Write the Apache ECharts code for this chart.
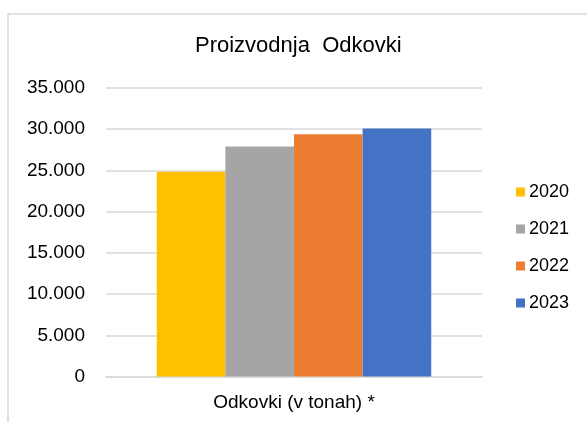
<!DOCTYPE html>
<html>
<head>
<meta charset="utf-8">
<script src="https://cdn.jsdelivr.net/npm/echarts@6/dist/echarts.min.js"></script>
<style>
  html, body { margin: 0; padding: 0; background: #fff; }
  #chart { width: 587px; height: 422px; }
</style>
</head>
<body>
<div id="chart"></div>
<script>
// Production of forgings per year (tonnes)
const categories = ['Odkovki (v tonah) *'];
const years = ['2020', '2021', '2022', '2023'];
const values2020 = [24850];
const values2021 = [27900];
const values2022 = [29400];
const values2023 = [30100];
const yearColors = ['#FFC000', '#A5A5A5', '#ED7D31', '#4472C4'];

const seriesValues = [values2020, values2021, values2022, values2023];
const font = '"Liberation Sans", Arial, sans-serif';

// Thousands separator with a dot: 35000 -> 35.000
function fmt(v) {
  return String(v).replace(/\B(?=(\d{3})+(?!\d))/g, '.');
}

const chart = echarts.init(document.getElementById('chart'), null, { renderer: 'canvas' });
chart.setOption({
  animation: false,
  backgroundColor: '#fff',
  textStyle: { fontFamily: font },
  title: {
    text: 'Proizvodnja  Odkovki',
    left: 195,
    top: 35,
    padding: 0,
    textStyle: { fontFamily: font, fontSize: 22, fontWeight: 'normal', color: '#000' }
  },
  legend: {
    orient: 'vertical',
    left: 516,
    top: 183,
    padding: 0,
    itemWidth: 9,
    itemHeight: 9,
    itemGap: 19,
    icon: 'rect',
    textStyle: { fontFamily: font, fontSize: 18, color: '#000', padding: [0, 0, 0, -1] },
    data: years
  },
  grid: { left: 106, right: 105, top: 88, bottom: 45.5, containLabel: false },
  xAxis: {
    type: 'category',
    data: categories,
    axisLine: { lineStyle: { color: '#d9d9d9', width: 1.5 } },
    axisTick: { show: false },
    axisLabel: { fontFamily: font, fontSize: 19, color: '#000', margin: 17 }
  },
  yAxis: {
    type: 'value',
    min: 0,
    max: 35000,
    interval: 5000,
    axisLine: { show: false },
    axisTick: { show: false },
    splitLine: { lineStyle: { color: '#d9d9d9', width: 1.5 } },
    axisLabel: { fontFamily: font, fontSize: 19, color: '#000', margin: 21, formatter: fmt }
  },
  graphic: [{
    type: 'rect',
    shape: { x: 8, y: 14, width: 600, height: 420 },
    style: { fill: 'none', stroke: '#d9d9d9', lineWidth: 1.5 },
    z: -1
  }],
  series: years.map((y, i) => ({
    name: y,
    type: 'bar',
    data: seriesValues[i],
    itemStyle: { color: yearColors[i] },
    barGap: '0%',
    barCategoryGap: '27%'
  }))
});
</script>
</body>
</html>
